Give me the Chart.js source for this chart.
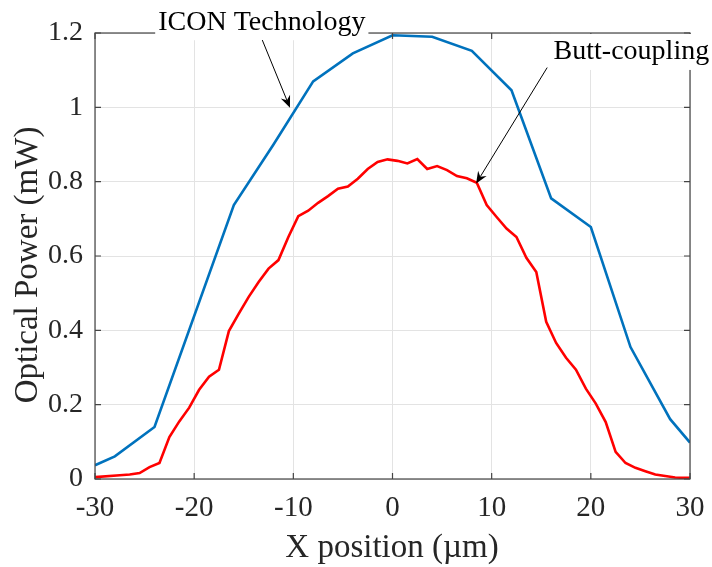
<!DOCTYPE html>
<html>
<head>
<meta charset="utf-8">
<script src="https://cdn.jsdelivr.net/npm/chart.js@4/dist/chart.umd.min.js"></script>
<style>
  html, body { margin: 0; padding: 0; background: #fff; }
</style>
</head>
<body>
<canvas id="chart" width="712" height="567"></canvas>
<script>
// ICON Technology curve (blue)
const iconX = [-30, -28, -24, -16, -12, -8, -4, 0, 4, 8, 12, 16, 20, 24, 28, 30];
const iconPower = [0.037, 0.061, 0.14, 0.737, 0.90, 1.07, 1.145, 1.194, 1.19, 1.152, 1.046, 0.755, 0.678, 0.355, 0.161, 0.098];

// Butt-coupling curve (red)
const buttX = [-30, -27.5, -26.5, -25.5, -24.5, -23.5, -22.5, -21.5, -20.5, -19.5, -18.5, -17.5, -16.5, -15.5,
  -14.5, -13.5, -12.5, -11.5, -10.5, -9.5, -8.5, -7.5, -6.5, -5.5, -4.5, -3.5, -2.5, -1.5, -0.5,
  0.5, 1.5, 2.5, 3.5, 4.5, 5.5, 6.5, 7.5, 8.5, 9.5, 10.5, 11.5, 12.5, 13.5, 14.5, 15.5, 16.5,
  17.5, 18.5, 19.5, 20.5, 21.5, 22.5, 23.5, 24.5, 25.5, 26.5, 27.5, 28.5, 29.5, 30];
const buttPower = [0.005, 0.010, 0.012, 0.016, 0.032, 0.043, 0.113, 0.155, 0.192, 0.24, 0.275, 0.294, 0.398, 0.445,
  0.49, 0.53, 0.566, 0.589, 0.651, 0.707, 0.722, 0.743, 0.761, 0.781, 0.787, 0.808, 0.834, 0.853, 0.86,
  0.856, 0.849, 0.861, 0.834, 0.842, 0.831, 0.815, 0.809, 0.797, 0.737, 0.705, 0.674, 0.651, 0.595, 0.557, 0.423, 0.366,
  0.326, 0.294, 0.243, 0.203, 0.153, 0.073, 0.043, 0.030, 0.021, 0.012, 0.008, 0.004, 0.003, 0.003];

const xTicks = [-30, -20, -10, 0, 10, 20, 30];
const yTicks = [0, 0.2, 0.4, 0.6, 0.8, 1, 1.2];

// annotation text + arrow, in data units
const notes = [
  { text: 'ICON Technology', tx: -13.18, ty: 1.229, fromX: -13.13, fromY: 1.181, toX: -10.34, toY: 0.999 },
  { text: 'Butt-coupling', tx: 24.09, ty: 1.149, fromX: 15.6, fromY: 1.107, toX: 8.43, toY: 0.795 }
];

const serif = "'Liberation Serif', 'Times New Roman', serif";
const textColor = '#262626';

function toPoints(xs, ys) {
    return xs.map((x, i) => ({ x: x, y: ys[i] }));
}

function drawArrow(ctx, x1, y1, x2, y2) {
    const dx = x2 - x1, dy = y2 - y1;
    const len = Math.hypot(dx, dy);
    const ux = dx / len, uy = dy / len;
    const L = 12, W = 5, N = 8;
    ctx.beginPath();
    ctx.moveTo(x1, y1);
    ctx.lineTo(x2 - ux * N, y2 - uy * N);
    ctx.stroke();
    ctx.beginPath();
    ctx.moveTo(x2, y2);
    ctx.lineTo(x2 - ux * L - uy * W, y2 - uy * L + ux * W);
    ctx.lineTo(x2 - ux * N, y2 - uy * N);
    ctx.lineTo(x2 - ux * L + uy * W, y2 - uy * L - ux * W);
    ctx.closePath();
    ctx.fill();
}

// axes box, inward ticks, axis titles and the two annotations
const decor = {
    id: 'decor',
    afterDraw(chart) {
        const ctx = chart.ctx;
        const a = chart.chartArea;
        const xs = chart.scales.x, ys = chart.scales.y;
        ctx.save();

        ctx.strokeStyle = '#444';
        ctx.lineWidth = 1.2;
        ctx.strokeRect(a.left, a.top, a.right - a.left, a.bottom - a.top);

        ctx.beginPath();
        xTicks.forEach(v => {
            const px = xs.getPixelForValue(v);
            ctx.moveTo(px, a.bottom); ctx.lineTo(px, a.bottom - 6);
            ctx.moveTo(px, a.top); ctx.lineTo(px, a.top + 6);
        });
        yTicks.forEach(v => {
            const py = ys.getPixelForValue(v);
            ctx.moveTo(a.left, py); ctx.lineTo(a.left + 6, py);
            ctx.moveTo(a.right, py); ctx.lineTo(a.right - 6, py);
        });
        ctx.stroke();

        ctx.fillStyle = textColor;
        ctx.textAlign = 'center';
        ctx.textBaseline = 'middle';
        ctx.font = '33px ' + serif;
        ctx.fillText('X position (\u00b5m)', 392, 548);
        ctx.save();
        ctx.translate(28, 265);
        ctx.rotate(-Math.PI / 2);
        ctx.fillText('Optical Power (mW)', 0, 0);
        ctx.restore();

        ctx.font = '28px ' + serif;
        notes.forEach(n => {
            const cx = xs.getPixelForValue(n.tx);
            const cy = ys.getPixelForValue(n.ty);
            const w = ctx.measureText(n.text).width;
            ctx.fillStyle = '#fff';
            ctx.fillRect(cx - w / 2 - 3, cy - 18, w + 6, 36);
            ctx.fillStyle = '#000';
            ctx.fillText(n.text, cx, cy);
            ctx.strokeStyle = '#000';
            ctx.lineWidth = 1;
            drawArrow(ctx, xs.getPixelForValue(n.fromX), ys.getPixelForValue(n.fromY),
                xs.getPixelForValue(n.toX), ys.getPixelForValue(n.toY));
        });

        ctx.restore();
    }
};

new Chart(document.getElementById('chart'), {
    type: 'line',
    data: {
        datasets: [{
            label: 'ICON Technology',
            data: toPoints(iconX, iconPower),
            borderColor: '#0072BD',
            borderWidth: 2.6,
            pointRadius: 0,
            tension: 0
        }, {
            label: 'Butt-coupling',
            data: toPoints(buttX, buttPower),
            borderColor: '#FF0000',
            borderWidth: 2.6,
            pointRadius: 0,
            tension: 0
        }]
    },
    options: {
        responsive: false,
        animation: false,
        layout: { padding: { top: 33, right: 22, left: 0, bottom: 0 } },
        plugins: { legend: { display: false }, tooltip: { enabled: false } },
        scales: {
            x: {
                type: 'linear',
                min: -30, max: 30,
                afterBuildTicks: s => { s.ticks = xTicks.map(v => ({ value: v })); },
                afterFit: s => { s.height = 88; s.paddingLeft = 0; s.paddingRight = 0; },
                grid: { color: '#e3e3e3', drawTicks: false },
                border: { display: false },
                ticks: {
                    padding: 12,
                    color: textColor,
                    font: { family: serif, size: 29 },
                    callback: v => String(v)
                }
            },
            y: {
                min: 0, max: 1.2,
                afterBuildTicks: s => { s.ticks = yTicks.map(v => ({ value: v })); },
                afterFit: s => { s.width = 95; s.paddingTop = 0; s.paddingBottom = 0; },
                grid: { color: '#e3e3e3', drawTicks: false },
                border: { display: false },
                ticks: {
                    padding: 12,
                    color: textColor,
                    font: { family: serif, size: 28 },
                    callback: v => String(Math.round(v * 10) / 10)
                }
            }
        }
    },
    plugins: [decor]
});
</script>
</body>
</html>
